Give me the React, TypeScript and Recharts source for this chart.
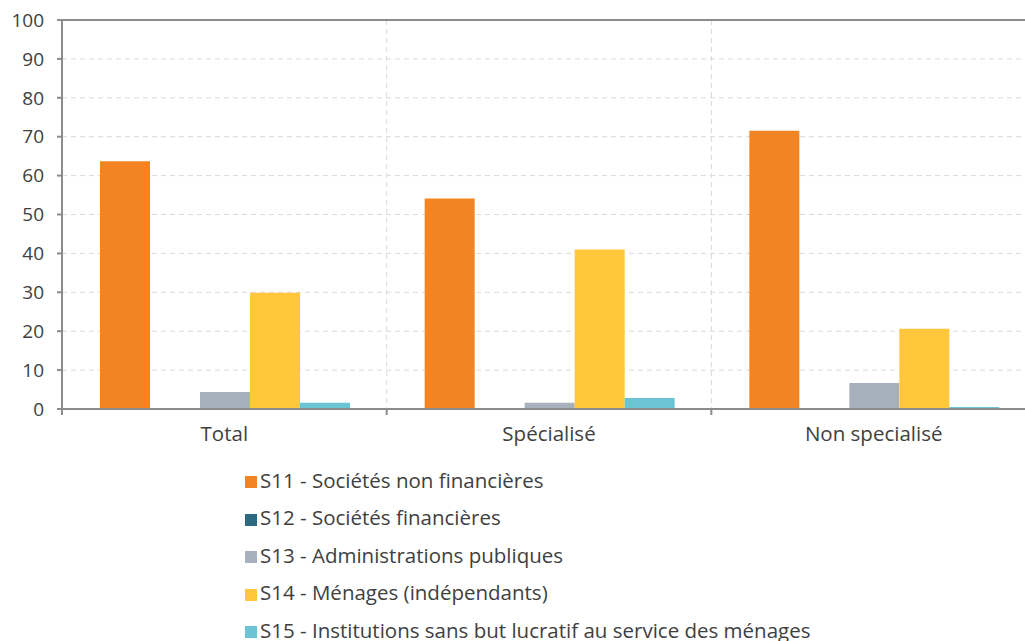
import React from 'react';
import {
  BarChart,
  Bar,
  XAxis,
  YAxis,
  CartesianGrid,
  Legend,
  ReferenceLine,
} from 'recharts';

const categories = ['Total', 'Spécialisé', 'Non specialisé'];
const s11 = [63.7, 54.1, 71.5];
const s12 = [0, 0, 0];
const s13 = [4.4, 1.6, 6.7];
const s14 = [29.9, 41.0, 20.6];
const s15 = [1.6, 2.8, 0.5];
const yTicks = [0, 10, 20, 30, 40, 50, 60, 70, 80, 90, 100];

const series = [
  { key: 's11', name: 'S11 - Sociétés non financières', values: s11, color: '#f38423' },
  { key: 's12', name: 'S12 - Sociétés financières', values: s12, color: '#2b6a81' },
  { key: 's13', name: 'S13 - Administrations publiques', values: s13, color: '#a6b1bd' },
  { key: 's14', name: 'S14 - Ménages (indépendants)', values: s14, color: '#ffc73b' },
  { key: 's15', name: 'S15 - Institutions sans but lucratif au service des ménages', values: s15, color: '#6bc4d3' },
];

const data = categories.map((name, i) => {
  const row: Record<string, string | number> = { name };
  series.forEach((s) => {
    row[s.key] = s.values[i];
  });
  return row;
});

const FONT = '"Open Sans", sans-serif';
const FS_Y = 19;
const FS = 20.5;
const AXIS = '#8c8c8c';
const TEXT = '#404040';
const X_TICK_MARGIN = 17;

// category label + small tick marks on the category boundaries
const CategoryTick = (props: any) => {
  const { x, y, payload, index, visibleTicksCount, width } = props;
  const half = width / visibleTicksCount / 2;
  const axisY = y - X_TICK_MARGIN;
  return (
    <g>
      <line x1={x - half} x2={x - half} y1={axisY} y2={axisY + 6} stroke={AXIS} strokeWidth={2} />
      {index === visibleTicksCount - 1 && (
        <line x1={x + half} x2={x + half} y1={axisY} y2={axisY + 6} stroke={AXIS} strokeWidth={2} />
      )}
      <text x={x} y={y} dy="0.71em" textAnchor="middle" fill={TEXT} fontSize={FS} fontFamily={FONT}>
        {payload.value}
      </text>
    </g>
  );
};

const LegendList = (props: any) => {
  const items = props.payload || [];
  return (
    <div style={{ fontFamily: FONT, fontSize: FS, color: TEXT }}>
      {items.map((it: any) => (
        <div key={it.value} style={{ height: 37.5, display: 'flex', alignItems: 'center', whiteSpace: 'nowrap' }}>
          <span
            style={{
              display: 'inline-block',
              width: 12,
              height: 12,
              background: it.color,
              marginRight: 3,
              position: 'relative',
              top: 2,
            }}
          />
          <span style={{ lineHeight: '19px' }}>{it.value}</span>
        </div>
      ))}
    </div>
  );
};

export default function App() {
  return (
    <div
      style={{
        position: 'absolute',
        top: 0,
        left: 0,
        width: 1025,
        height: 641,
        overflow: 'hidden',
        background: '#fff',
      }}
    >
      <BarChart
        width={1036}
        height={641}
        data={data}
        margin={{ top: 20, right: 0, left: 0, bottom: 202 }}
        barCategoryGap={38}
        barGap={0}
      >
        <CartesianGrid
          stroke="#d9d9d9"
          strokeDasharray="5 4"
          horizontalValues={[10, 20, 30, 40, 50, 60, 70, 80, 90]}
          verticalCoordinatesGenerator={({ offset }: any) => [
            offset.left + offset.width / 3,
            offset.left + (offset.width * 2) / 3,
          ]}
        />
        <XAxis
          dataKey="name"
          height={30}
          axisLine={{ stroke: AXIS, strokeWidth: 2 }}
          tickLine={false}
          tickSize={0}
          tickMargin={X_TICK_MARGIN}
          tick={<CategoryTick />}
          interval={0}
        />
        <YAxis
          width={62}
          domain={[0, 100]}
          ticks={yTicks}
          interval={0}
          tickSize={5}
          tickMargin={13}
          axisLine={{ stroke: AXIS, strokeWidth: 2 }}
          tickLine={{ stroke: AXIS, strokeWidth: 2 }}
          tick={{ fill: TEXT, fontSize: FS_Y, fontFamily: FONT }}
        />
        <ReferenceLine y={100} stroke={AXIS} strokeWidth={2} />
        {series.map((s) => (
          <Bar key={s.key} dataKey={s.key} name={s.name} fill={s.color} isAnimationActive={false} />
        ))}
        <Legend
          layout="vertical"
          align="center"
          verticalAlign="middle"
          content={<LegendList />}
          wrapperStyle={{ top: 461.5, left: 245, width: 760 }}
        />
      </BarChart>
    </div>
  );
}
